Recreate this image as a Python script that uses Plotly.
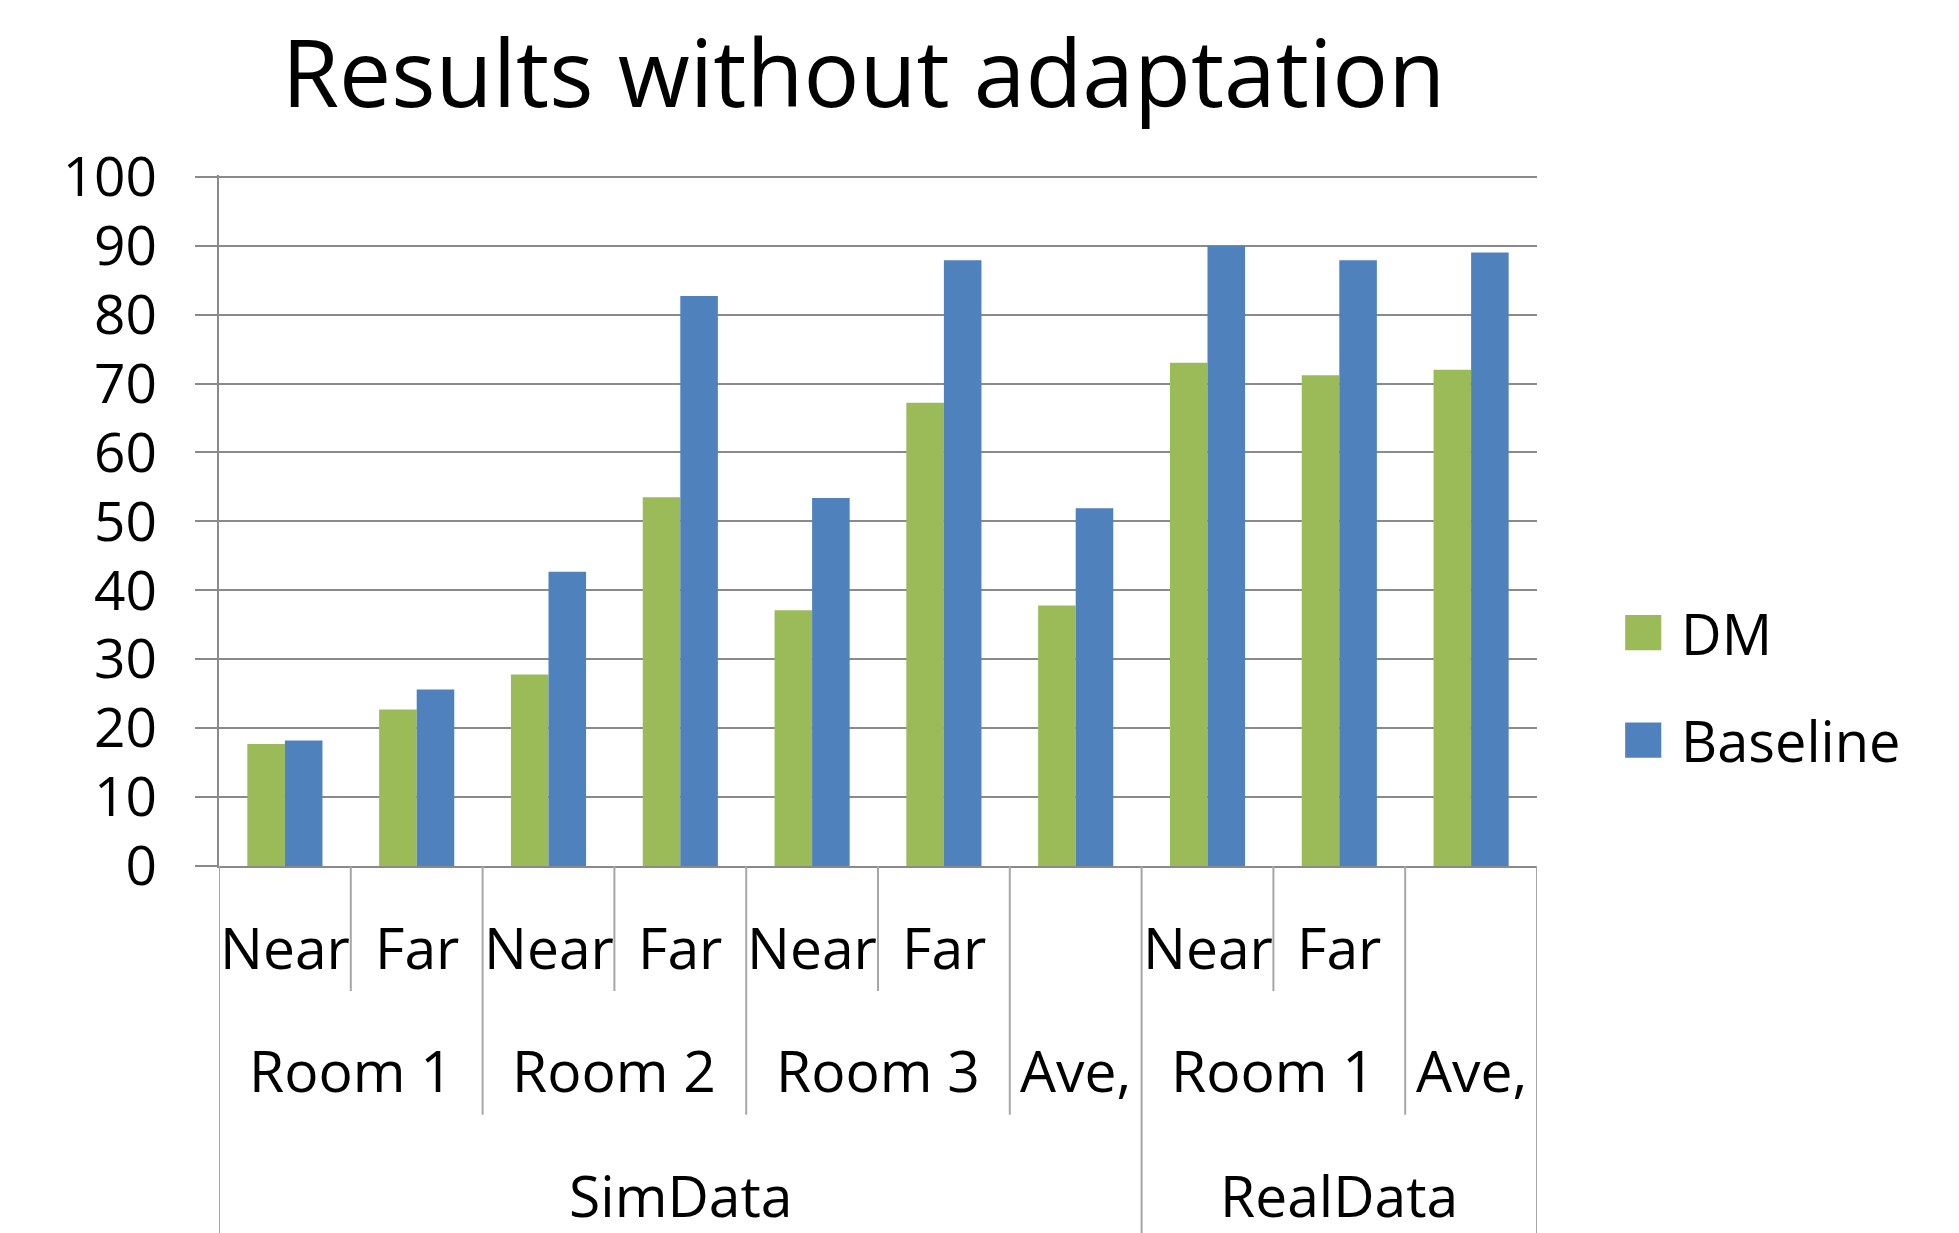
import plotly.graph_objects as go

# ---- data ----
groups = ["SimData"] * 7 + ["RealData"] * 3
rooms = ["Room 1", "Room 1", "Room 2", "Room 2", "Room 3", "Room 3", "Ave,",
         "Room 1", "Room 1", "Ave,"]
leaves = ["Near", "Far", "Near", "Far", "Near", "Far", "", "Near", "Far", ""]
dm = [17.7, 22.7, 27.8, 53.5, 37.1, 67.2, 37.8, 73.0, 71.2, 72.0]
baseline = [18.2, 25.6, 42.7, 82.7, 53.4, 87.9, 51.9, 90.0, 87.9, 89.0]
series_names = ["DM", "Baseline"]
y_ticks = list(range(0, 101, 10))

# ---- style ----
GREEN = "#9BBB59"
BLUE = "#4F81BD"
GRID = "#8A8A8A"
SEP = "#A6A6A6"
FONT = "Open Sans"
FS = 57
TICK_FS = 55

cats = [f"{g}|{r}|{l}" for g, r, l in zip(groups, rooms, leaves)]

fig = go.Figure()
fig.add_trace(go.Bar(x=cats, y=dm, name=series_names[0], marker_color=GREEN,
                     marker_line_width=0, showlegend=False))
fig.add_trace(go.Bar(x=cats, y=baseline, name=series_names[1], marker_color=BLUE,
                     marker_line_width=0, showlegend=False))

# paper y levels for hierarchical labels / separators
Y_LEAF_TXT, Y_ROOM_TXT, Y_GROUP_TXT = -0.117, -0.295, -0.476
Y_LEAF_END, Y_ROOM_END, Y_GROUP_END = -0.181, -0.360, -0.535

annotations = []
shapes = []
n = len(cats)


def lab(x, y, text):
    return dict(x=x, y=y, xref="x", yref="paper", text=text, showarrow=False,
                yanchor="middle", font=dict(family=FONT, size=FS, color="black"))


for i, l in enumerate(leaves):
    if l:
        annotations.append(lab(cats[i], Y_LEAF_TXT, l))


def spans(keys):
    out = []
    start = 0
    for i in range(1, n + 1):
        if i == n or keys[i] != keys[start]:
            out.append((start, i - 1, keys[start]))
            start = i
    return out


room_keys = [(g, r) for g, r in zip(groups, rooms)]
for s, e, k in spans(room_keys):
    annotations.append(lab((s + e) / 2, Y_ROOM_TXT, k[1]))
for s, e, k in spans(groups):
    annotations.append(lab((s + e) / 2, Y_GROUP_TXT, k))

# separator lines
for b in range(n + 1):
    if b == 0 or b == n or groups[b] != groups[b - 1]:
        yend = Y_GROUP_END
    elif room_keys[b] != room_keys[b - 1]:
        yend = Y_ROOM_END
    else:
        yend = Y_LEAF_END
    shapes.append(dict(type="line", xref="x", yref="paper", x0=b - 0.5, x1=b - 0.5,
                       y0=0, y1=yend, line=dict(color=SEP, width=2)))

# manual legend (large swatches)
leg_items = [(series_names[0], GREEN, 0.3379), (series_names[1], BLUE, 0.1823)]
for name, col, yc in leg_items:
    shapes.append(dict(type="rect", xref="paper", yref="paper",
                       x0=1.0669, x1=1.0943, y0=yc - 0.0255, y1=yc + 0.0255,
                       fillcolor=col, line=dict(width=0)))
    annotations.append(dict(x=1.1079, y=yc, xref="paper", yref="paper", text=name,
                            showarrow=False, xanchor="left", yanchor="middle",
                            font=dict(family=FONT, size=56, color="black")))

OFF = 8  # page body margin
fig.update_layout(
    width=1959, height=1233,
    margin=dict(l=219 - OFF, r=422 + OFF, t=175 - OFF, b=367 + OFF),
    paper_bgcolor="white", plot_bgcolor="white",
    barmode="group", bargap=0.43, bargroupgap=0,
    title=dict(text="Results without adaptation", x=(863.5 - OFF) / 1959,
               xref="container", xanchor="center", y=1 - (74 - OFF) / 1233,
               yref="container", yanchor="middle",
               font=dict(family=FONT, size=93, color="black")),
    xaxis=dict(type="category", showticklabels=False, ticks="", showgrid=False,
               showline=True, linecolor=GRID, linewidth=2,
               range=[-0.5, n - 0.5], fixedrange=True),
    yaxis=dict(range=[0, 100.25], tickvals=y_ticks, showgrid=True, gridcolor=GRID,
               gridwidth=2, showline=True, linecolor=GRID, linewidth=2,
               ticks="outside", ticklen=22, tickcolor=GRID, tickwidth=2,
               ticklabelstandoff=27, zeroline=False,
               tickfont=dict(family=FONT, size=TICK_FS, color="black")),
    annotations=annotations, shapes=shapes,
    showlegend=False,
)

fig.write_html("out.html")
